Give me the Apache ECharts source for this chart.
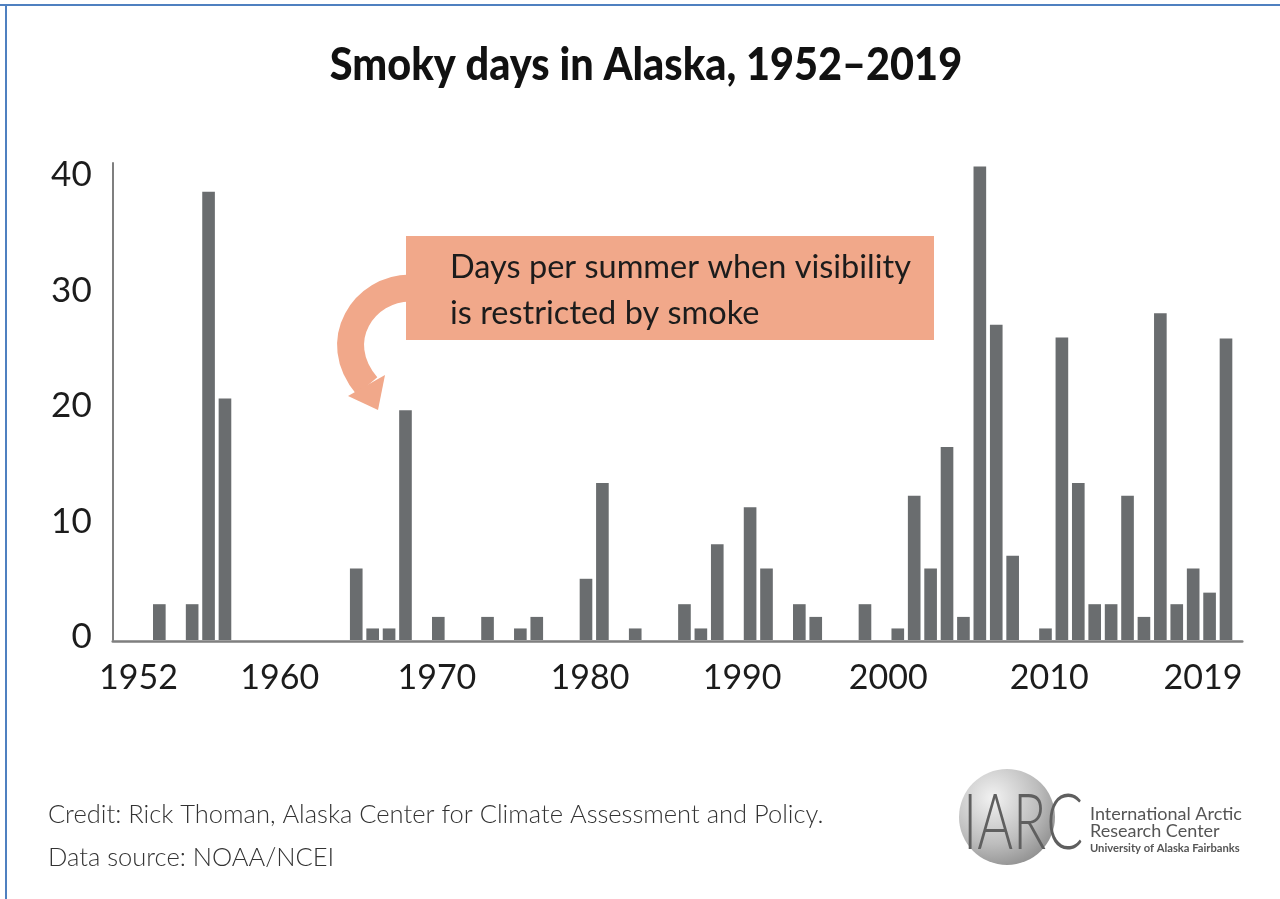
<!DOCTYPE html>
<html>
<head>
<meta charset="utf-8">
<script src="https://cdn.jsdelivr.net/npm/echarts@6/dist/echarts.min.js"></script>
<style>
html,body{margin:0;padding:0;background:#ffffff;}
#chart{width:1280px;height:899px;}
</style>
</head>
<body>
<div id="chart"></div>
<script>
// ---- data ----
const years = ['1952','1953','1954','1955','1956','1957','1958','1959','1960','1961',
  '1962','1963','1964','1965','1966','1967','1968','1969','1970','1971',
  '1972','1973','1974','1975','1976','1977','1978','1979','1980','1981',
  '1982','1983','1984','1985','1986','1987','1988','1989','1990','1991',
  '1992','1993','1994','1995','1996','1997','1998','1999','2000','2001',
  '2002','2003','2004','2005','2006','2007','2008','2009','2010','2011',
  '2012','2013','2014','2015','2016','2017','2018','2019'];
const smokyDays = [0, 0, 3.1, 0, 3.1, 38.8, 20.9, 0, 0, 0,
  0, 0, 0, 0, 6.2, 1, 1, 19.9, 0, 2,
  0, 0, 2, 0, 1, 2, 0, 0, 5.3, 13.6,
  0, 1, 0, 0, 3.1, 1, 8.3, 0, 11.5, 6.2,
  0, 3.1, 2, 0, 0, 3.1, 0, 1, 12.5, 6.2,
  16.7, 2, 41, 27.3, 7.3, 0, 1, 26.2, 13.6, 3.1,
  3.1, 12.5, 2, 28.3, 3.1, 6.2, 4.1, 26.1];
const xTickLabels = ['1952','1960','1970','1980','1990','2000','2010','2019'];
const titleText = 'Smoky days in Alaska, 1952\u20132019';
const noteLines = ['Days per summer when visibility', 'is restricted by smoke'];
const creditLines = ['Credit: Rick Thoman, Alaska Center for Climate Assessment and Policy.', 'Data source: NOAA/NCEI'];
const logoMark = 'IARC';
const logoLines = ['International Arctic', 'Research Center', 'University of Alaska Fairbanks'];

// ---- styling ----
const BAR = '#6a6d6f';
const AXIS = '#7f7f7f';
const INK = '#1c1c1c';
const SALMON = '#f1a88a';
const BLUE = '#4f80c0';

// small horizontal nudges of the hand-placed year labels (px)
const labelNudge = {'1952':12,'1960':22,'1970':15,'1980':4,'1990':-8,'2000':-26,'2010':-29,'2019':-23};
const rich = {};
xTickLabels.forEach(function (y) {
  const d = labelNudge[y] || 0;
  rich['t' + y] = {
    fontFamily: 'Lato', fontSize: 34, color: INK,
    padding: d >= 0 ? [0, 0, 0, 2 * d] : [0, -2 * d, 0, 0]
  };
});

const chart = echarts.init(document.getElementById('chart'), null, {renderer: 'canvas'});
chart.setOption({
  backgroundColor: '#ffffff',
  animation: false,
  grid: [
    {left: 118.3, width: 1115.9, top: 163, bottom: 259, containLabel: false},
    {left: 112.7, width: 1129.6, top: 163, bottom: 257.3, containLabel: false}
  ],
  xAxis: [
    {
      type: 'category', gridIndex: 0, data: years,
      axisLine: {show: false}, axisTick: {show: false},
      axisLabel: {
        interval: function (i, v) { return xTickLabels.indexOf(v) >= 0; },
        formatter: function (v) { return '{t' + v + '|' + v + '}'; },
        rich: rich, margin: 21
      }
    },
    {
      type: 'value', gridIndex: 1, min: 0, max: 1,
      axisLine: {show: true, onZero: false, lineStyle: {color: AXIS, width: 2.5}},
      axisTick: {show: false}, axisLabel: {show: false}, splitLine: {show: false}
    }
  ],
  yAxis: [
    {
      type: 'value', gridIndex: 0, min: 0, max: 41.3, interval: 10,
      offset: 5.6,
      axisLine: {show: true, lineStyle: {color: AXIS, width: 2}},
      axisTick: {show: false},
      splitLine: {show: false},
      axisLabel: {
        showMaxLabel: false,
        margin: 21,
        formatter: function (v) { return '{v|' + v + '}'; },
        rich: {v: {fontFamily: 'Lato', fontSize: 35, color: INK, padding: [0, 0, 6, 0]}}
      }
    },
    {
      type: 'value', gridIndex: 1, show: false, min: 0, max: 1
    }
  ],
  series: [{
    type: 'bar', xAxisIndex: 0, yAxisIndex: 0,
    data: smokyDays, barWidth: '77%',
    itemStyle: {color: BAR},
    silent: true
  }],
  graphic: [
    // page frame lines
    {type: 'line', shape: {x1: 0, y1: 5, x2: 1280, y2: 5}, style: {stroke: BLUE, lineWidth: 2}},
    {type: 'line', shape: {x1: 6, y1: 5, x2: 6, y2: 899}, style: {stroke: BLUE, lineWidth: 2}},
    // title
    {type: 'text', x: 646, y: 65, scaleX: 0.9,
      style: {text: titleText, font: '900 46px Lato', fill: '#111111', align: 'center', verticalAlign: 'middle'}},
    // annotation
    {type: 'rect', shape: {x: 406, y: 236, width: 528, height: 104}, style: {fill: SALMON}},
    {type: 'bezierCurve', shape: {x1: 410, y1: 288, cpx1: 365, cpy1: 288, cpx2: 328, cpy2: 340, x2: 367, y2: 386},
      style: {stroke: SALMON, lineWidth: 27, fill: null, lineCap: 'butt'}},
    {type: 'polygon', shape: {points: [[348, 396], [378, 410], [385, 375]]}, style: {fill: SALMON}},
    {type: 'text', x: 450, y: 268, style: {text: noteLines[0], font: '32.5px Lato', fill: INK, verticalAlign: 'middle'}},
    {type: 'text', x: 450, y: 314, style: {text: noteLines[1], font: '32.5px Lato', fill: INK, verticalAlign: 'middle'}},
    // credits
    {type: 'text', x: 48, y: 815, style: {text: creditLines[0], font: '300 25.5px Lato', fill: '#333333', verticalAlign: 'middle'}},
    {type: 'text', x: 48, y: 858, style: {text: creditLines[1], font: '300 25.5px Lato', fill: '#333333', verticalAlign: 'middle'}},
    // logo
    {type: 'circle', shape: {cx: 1007, cy: 817, r: 48}, style: {fill: new echarts.graphic.RadialGradient(0.35, 0.3, 0.8, [
      {offset: 0, color: '#f2f2f2'}, {offset: 0.6, color: '#bdbdbd'}, {offset: 1, color: '#8a8a8a'}])}},
    {type: 'text', x: 963, y: 824, scaleX: 0.72,
      style: {text: logoMark, font: '300 76px Lato', fill: '#5f5f5f', verticalAlign: 'middle'}},
    {type: 'text', x: 1090, y: 814, style: {text: logoLines[0], font: '18px Lato', fill: '#555555', verticalAlign: 'middle'}},
    {type: 'text', x: 1090, y: 831, style: {text: logoLines[1], font: '18px Lato', fill: '#555555', verticalAlign: 'middle'}},
    {type: 'text', x: 1090, y: 848, style: {text: logoLines[2], font: 'bold 11.2px Lato', fill: '#555555', verticalAlign: 'middle'}}
  ]
});
</script>
</body>
</html>
